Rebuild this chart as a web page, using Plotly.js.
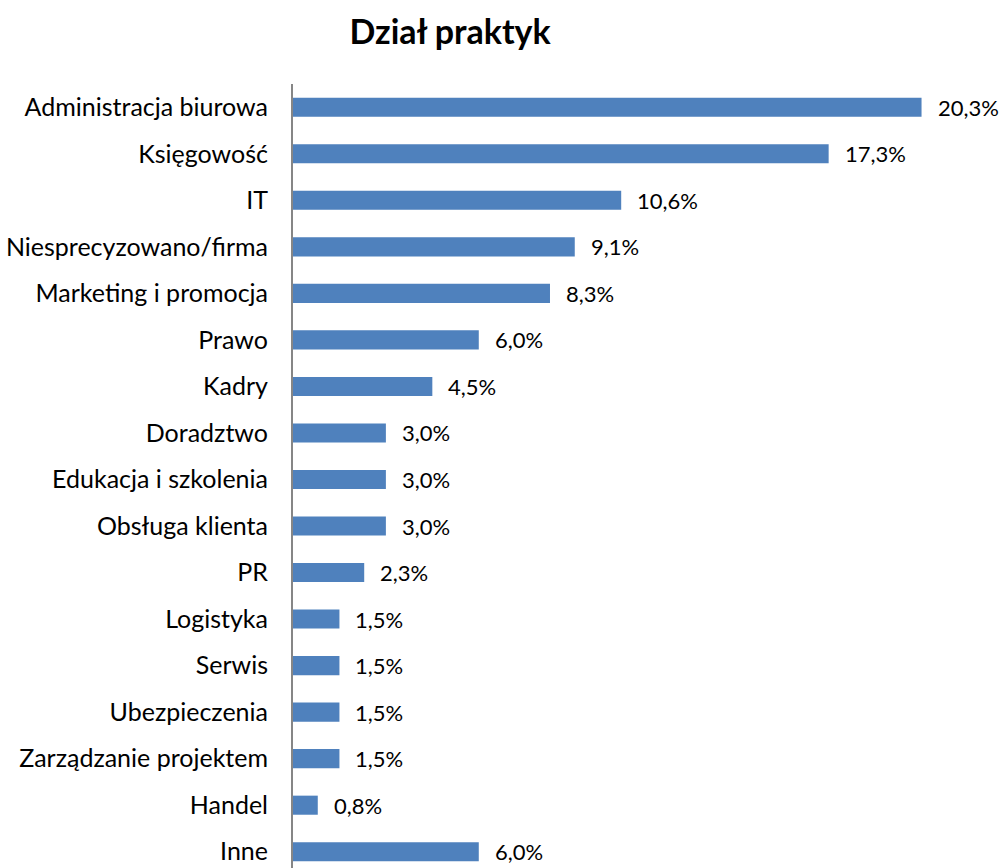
<!DOCTYPE html>
<html><head><meta charset="utf-8">
<script src="https://cdn.plot.ly/plotly-3.0.1.min.js"></script>
<style>html,body{margin:0;padding:0;background:#fff}#chart{width:1007px;height:868px}</style>
</head><body><div id="chart"></div>
<script>
var categories = ["Administracja biurowa","Księgowość","IT","Niesprecyzowano/firma","Marketing i promocja","Prawo","Kadry","Doradztwo","Edukacja i szkolenia","Obsługa klienta","PR","Logistyka","Serwis","Ubezpieczenia","Zarządzanie projektem","Handel","Inne"];
var values = [20.3,17.3,10.6,9.1,8.3,6.0,4.5,3.0,3.0,3.0,2.3,1.5,1.5,1.5,1.5,0.8,6.0];
var labels = values.map(function(v){return v.toFixed(1).replace('.',',')+'%';});
var font = "Lato, 'Open Sans', sans-serif";
var annotations = values.map(function(v,i){
  return {x:v, y:categories[i], xref:'x', yref:'y', text:labels[i], showarrow:false, xanchor:'left', xshift:14, font:{family:font,size:22,color:'#000'}};
});
Plotly.newPlot('chart',[{
  type:'bar', orientation:'h', x:values, y:categories,
  marker:{color:'#4F81BD'}, width:0.41, hoverinfo:'none'
}],{
  width:1007, height:868,
  margin:{l:293,r:0,t:84,b:0},
  paper_bgcolor:'#fff', plot_bgcolor:'#fff',
  showlegend:false,
  title:{text:'<b>Dział praktyk</b>', x:0.447, xanchor:'center', y:0.963, yanchor:'middle', font:{family:font,size:34,color:'#000'}},
  xaxis:{range:[0,23.06], showgrid:false, zeroline:false, showticklabels:false, showline:false, fixedrange:true},
  yaxis:{type:'category', range:[16.35,-0.5], autorange:false, showgrid:false, zeroline:false, showline:true, linecolor:'#868686', linewidth:2, ticks:'', ticklabelstandoff:18, tickfont:{family:font,size:25,color:'#000'}},
  annotations:annotations
},{staticPlot:true});
</script></body></html>
